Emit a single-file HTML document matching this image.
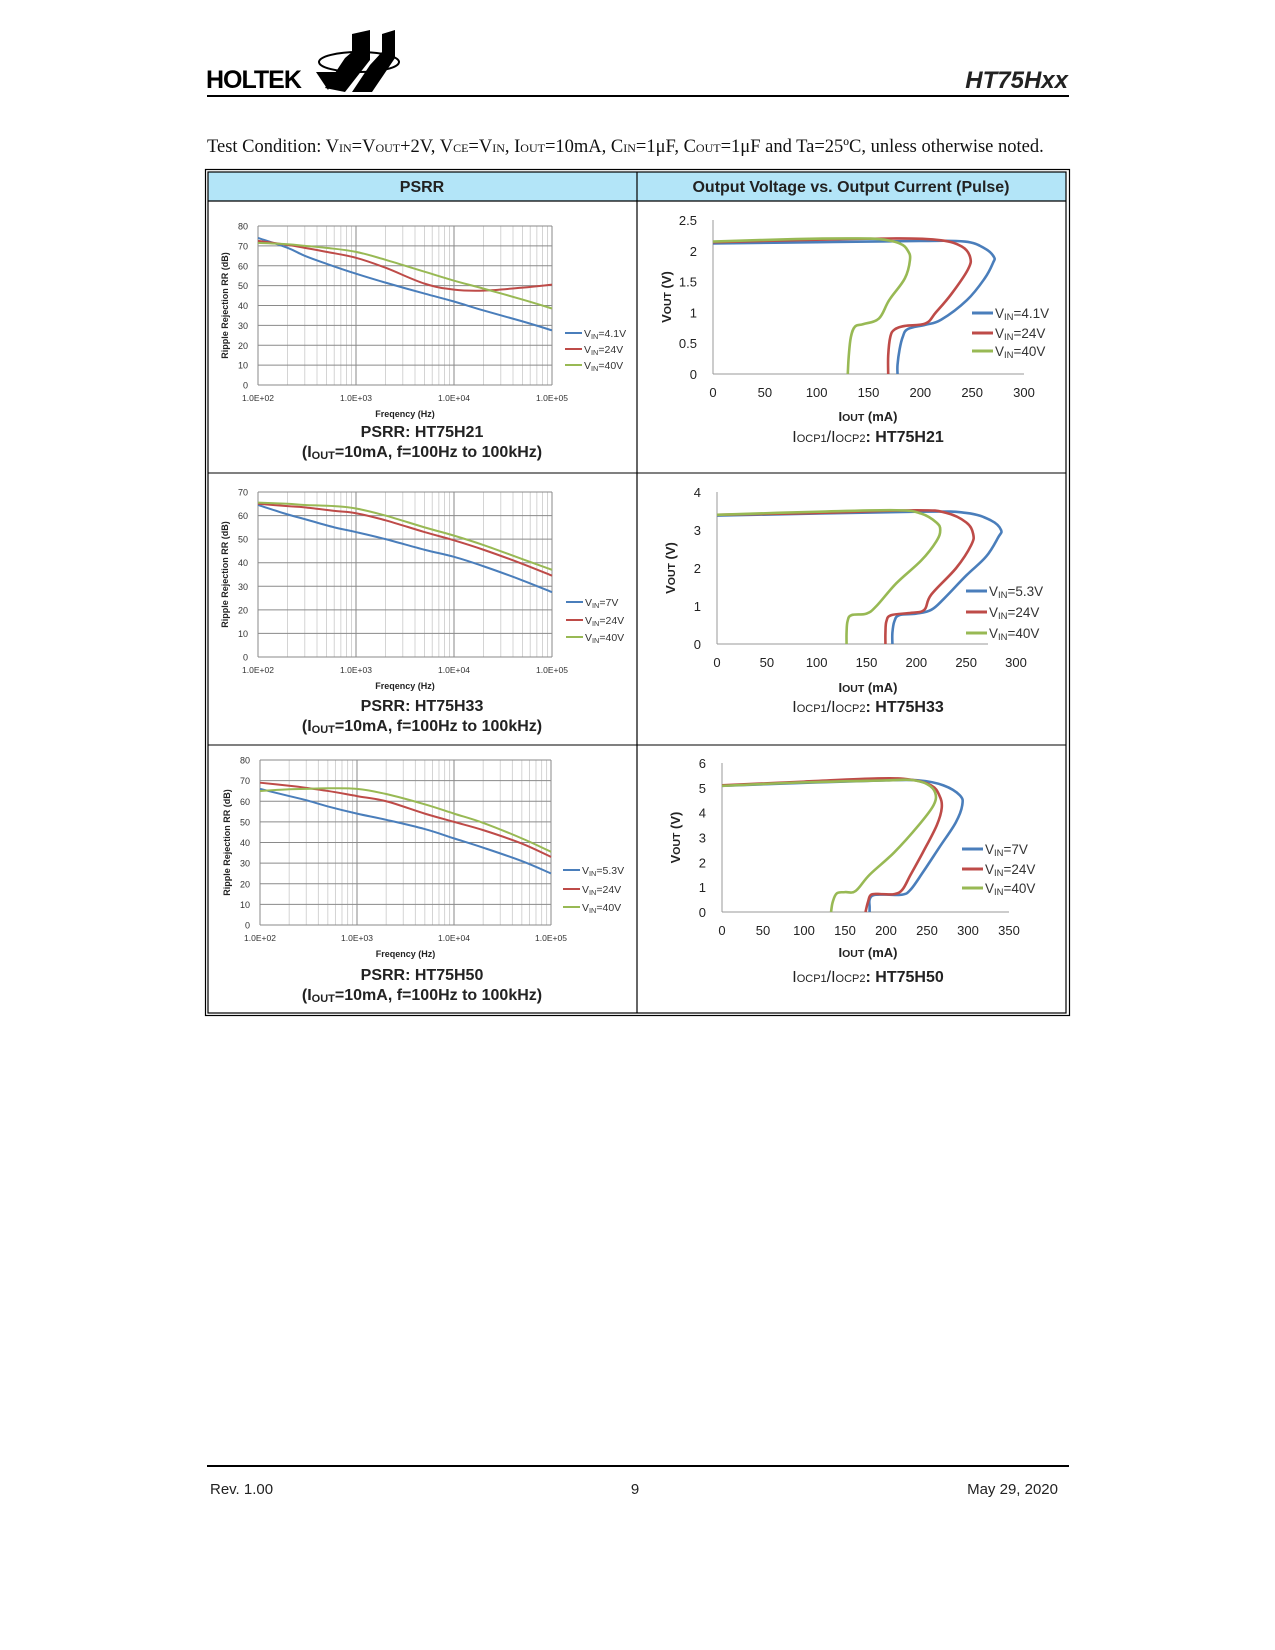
<!DOCTYPE html>
<html><head><meta charset="utf-8">
<style>
html,body{margin:0;padding:0;background:#fff;}
body{width:1275px;height:1650px;position:relative;overflow:hidden;font-family:"Liberation Sans",Arial,sans-serif;}
svg{position:absolute;left:0;top:0;}
</style></head>
<body>
<svg id="page" width="1275" height="1650" viewBox="0 0 1275 1650" xmlns="http://www.w3.org/2000/svg">
  <!-- Header -->
  <g>
    <text x="206" y="88" font-family="Liberation Sans, sans-serif" font-weight="bold" font-size="25" fill="#000" letter-spacing="-1">HOLTEK</text>
    <ellipse cx="359" cy="62" rx="40" ry="10" fill="none" stroke="#000" stroke-width="2"/>
    <polygon points="325,88 345,58 352,52 352,34 370,30 370,60 345,92" fill="#000"/>
    <polygon points="352,92 370,65 382,52 382,34 395,30 395,58 372,92" fill="#000"/>
    <polygon points="316,72 338,72 328,90" fill="#000"/>
  </g>
  <text x="1068" y="88" text-anchor="end" font-weight="bold" font-style="italic" font-size="24" fill="#222">HT75Hxx</text>
  <rect x="207" y="95" width="862" height="2" fill="#000"/>

  <text x="207" y="152" font-family="Liberation Serif, serif" font-size="18.5" fill="#111">Test Condition: V<tspan font-size="12">IN</tspan>=V<tspan font-size="12">OUT</tspan>+2V, V<tspan font-size="12">CE</tspan>=V<tspan font-size="12">IN</tspan>, I<tspan font-size="12">OUT</tspan>=10mA, C<tspan font-size="12">IN</tspan>=1μF, C<tspan font-size="12">OUT</tspan>=1μF and Ta=25ºC, unless otherwise noted.</text>

  <!-- Table -->
  <g>
    <rect x="208" y="172" width="858" height="29" fill="#b3e5f8"/>
    <rect x="205.5" y="169.5" width="864" height="846" fill="none" stroke="#000" stroke-width="1.2"/>
    <rect x="208" y="172" width="858" height="841" fill="none" stroke="#000" stroke-width="1.2"/>
    <line x1="208" y1="201" x2="1066" y2="201" stroke="#000" stroke-width="1.2"/>
    <line x1="637" y1="172" x2="637" y2="1013" stroke="#000" stroke-width="1.2"/>
    <line x1="208" y1="473" x2="1066" y2="473" stroke="#000" stroke-width="1"/>
    <line x1="208" y1="745" x2="1066" y2="745" stroke="#000" stroke-width="1"/>
    <text x="422" y="192" text-anchor="middle" font-weight="bold" font-size="16" fill="#222">PSRR</text>
    <text x="851" y="192" text-anchor="middle" font-weight="bold" font-size="16" fill="#222">Output Voltage vs. Output Current (Pulse)</text>
  </g>
  <g id="charts"></g>

  <!-- Footer -->
  <rect x="207" y="1465" width="862" height="2" fill="#000"/>
  <text x="210" y="1494" font-size="15" fill="#222">Rev. 1.00</text>
  <text x="635" y="1494" text-anchor="middle" font-size="15" fill="#222">9</text>
  <text x="1058" y="1494" text-anchor="end" font-size="15" fill="#222">May 29, 2020</text>
</svg>

<script>
// ---------- PSRR data (frequency Hz, dB) ----------
const psrr1Freq = [100,200,300,500,1000,2000,5000,10000,20000,50000,100000];
const psrr1Blue  = [74,69,65,61,56,51.5,46,42,37.5,32,27.5];
const psrr1Red   = [72.5,70.5,69,67,64,59,51,48,47.5,49,50.5];
const psrr1Green = [71.5,70.8,70,69,67,63,57,52.5,48.5,43,38.5];
const psrr1Legend = ["4.1V","24V","40V"];

const psrr2Freq = [100,200,300,600,1000,2000,5000,10000,20000,50000,100000];
const psrr2Blue  = [64.5,60.5,58.5,55,53,50,45.5,42.5,38.5,32.5,27.5];
const psrr2Red   = [65,64,63.5,62,61,58,53,49.5,45.5,39.5,34.5];
const psrr2Green = [65.5,65,64.5,64,63,60,55,51.5,47.5,41.5,37];
const psrr2Legend = ["7V","24V","40V"];

const psrr3Freq = [100,200,300,500,1000,2000,5000,10000,20000,50000,100000];
const psrr3Blue  = [66,62.5,60.5,57.5,54,51,46.5,42,37.5,31,25];
const psrr3Red   = [69,67.5,66.5,65,62.5,60,54,50,46,39.5,33];
const psrr3Green = [65,65.8,66,66.3,66,63.5,58.5,54,49.5,42,35.5];
const psrr3Legend = ["5.3V","24V","40V"];

const psrrYTicks1 = [0,10,20,30,40,50,60,70,80];
const psrrYTicks2 = [0,10,20,30,40,50,60,70];
const psrrXTicks = ["1.0E+02","1.0E+03","1.0E+04","1.0E+05"];

// ---------- Output V vs I data (mA, V) ----------
const vi1BlueI  = [0,100,200,243,262,271,270,262,245,220,205,188,183,180,178,178];
const vi1BlueV  = [2.12,2.14,2.16,2.15,2.04,1.9,1.8,1.55,1.2,0.88,0.8,0.73,0.6,0.4,0.15,0];
const vi1RedI   = [0,100,180,220,240,248,246,230,215,205,185,175,171,169,169];
const vi1RedV   = [2.14,2.18,2.2,2.17,2.07,1.9,1.7,1.3,1.0,0.82,0.78,0.72,0.6,0.3,0];
const vi1GreenI = [0,80,130,160,180,188,190,185,170,160,145,137,133,131,130];
const vi1GreenV = [2.15,2.19,2.2,2.19,2.12,2.0,1.85,1.55,1.2,0.9,0.81,0.77,0.6,0.3,0];
const vi1Legend = ["4.1V","24V","40V"];
const vi1XTicks = [0,50,100,150,200,250,300];
const vi1YTicks = [0,0.5,1,1.5,2,2.5];

const vi2BlueI  = [0,200,250,275,285,282,270,250,228,215,200,183,178,176,176];
const vi2BlueV  = [3.38,3.48,3.45,3.25,3.0,2.8,2.3,1.8,1.2,0.9,0.8,0.76,0.6,0.3,0];
const vi2RedI   = [0,100,200,230,250,257,255,240,215,208,195,175,170,169,169];
const vi2RedV   = [3.4,3.45,3.52,3.45,3.2,2.9,2.6,2.0,1.3,0.9,0.82,0.76,0.6,0.3,0];
const vi2GreenI = [0,100,180,205,220,224,220,205,180,160,150,135,131,130,130];
const vi2GreenV = [3.4,3.48,3.52,3.43,3.2,3.0,2.7,2.2,1.6,1.0,0.8,0.76,0.6,0.3,0];
const vi2Legend = ["5.3V","24V","40V"];
const vi2XTicks = [0,50,100,150,200,250,300];
const vi2YTicks = [0,1,2,3,4];

const vi3BlueI  = [0,100,200,240,270,290,293,285,265,245,230,220,200,185,180,180,180];
const vi3BlueV  = [5.08,5.2,5.3,5.3,5.1,4.7,4.3,3.6,2.6,1.6,0.9,0.7,0.7,0.68,0.5,0.2,0];
const vi3RedI   = [0,100,190,230,255,265,268,262,245,230,220,210,195,182,178,175];
const vi3RedV   = [5.1,5.25,5.38,5.33,5.1,4.7,4.2,3.5,2.4,1.5,0.9,0.72,0.72,0.7,0.4,0];
const vi3GreenI = [0,100,200,230,250,260,258,240,210,180,163,150,140,135,133];
const vi3GreenV = [5.08,5.22,5.3,5.32,5.15,4.8,4.3,3.5,2.4,1.5,0.85,0.8,0.75,0.4,0];
const vi3Legend = ["7V","24V","40V"];
const vi3XTicks = [0,50,100,150,200,250,300,350];
const vi3YTicks = [0,1,2,3,4,5,6];

const COLORS = ["#4a7ebb","#be4b48","#98b954"];
const NS = "http://www.w3.org/2000/svg";
const root = document.getElementById("charts");

function mk(tag, attrs, parent, text){
  const e = document.createElementNS(NS, tag);
  for (const k in attrs) e.setAttribute(k, attrs[k]);
  if (text !== undefined) e.textContent = text;
  (parent || root).appendChild(e);
  return e;
}
function smoothPath(pts){
  let d = "M" + pts[0][0].toFixed(2) + "," + pts[0][1].toFixed(2);
  for (let i = 0; i < pts.length - 1; i++){
    const p0 = pts[Math.max(0,i-1)], p1 = pts[i], p2 = pts[i+1], p3 = pts[Math.min(pts.length-1,i+2)];
    const t = 0.18;
    const c1 = [p1[0]+(p2[0]-p0[0])*t, p1[1]+(p2[1]-p0[1])*t];
    const c2 = [p2[0]-(p3[0]-p1[0])*t, p2[1]-(p3[1]-p1[1])*t];
    d += " C" + c1[0].toFixed(2)+","+c1[1].toFixed(2)+" "+c2[0].toFixed(2)+","+c2[1].toFixed(2)+" "+p2[0].toFixed(2)+","+p2[1].toFixed(2);
  }
  return d;
}
function vinLabel(g, x, y, val, fs){
  const t = mk("text", {x:x, y:y, "font-size":fs, fill:"#333"}, g);
  
  
  t.appendChild(document.createTextNode("V"));
  mk("tspan", {"font-size":fs*0.7, dy:2}, t, "IN");
  mk("tspan", {dy:-2}, t, "=" + val);
  return t;
}

function psrrChart(cfg){
  const g = mk("g", {});
  
  
  const xs = f => cfg.x0 + (Math.log10(f) - 2) / 3 * (cfg.x1 - cfg.x0);
  const ys = v => cfg.y0 + (v / cfg.ymax) * (cfg.yTop - cfg.y0);
  for (let dec = 2; dec < 5; dec++){
    for (let m = 2; m <= 9; m++){
      const x = xs(m * Math.pow(10, dec));
      mk("line", {x1:x, x2:x, y1:cfg.yTop, y2:cfg.y0, stroke:"#d4d4d4", "stroke-width":1}, g);
    }
  }
  for (let dec = 2; dec <= 5; dec++){
    const x = xs(Math.pow(10, dec));
    mk("line", {x1:x, x2:x, y1:cfg.yTop, y2:cfg.y0, stroke:"#8a8a8a", "stroke-width":1}, g);
  }
  cfg.yTicks.forEach(v => {
    const y = ys(v);
    mk("line", {x1:cfg.x0, x2:cfg.x1, y1:y, y2:y, stroke:"#8a8a8a", "stroke-width":1}, g);
    const t = mk("text", {x:cfg.x0 - 10, y:y + 3.5, "text-anchor":"end", "font-size":9, fill:"#333"}, g, String(v));
    
    
  });
  cfg.xTicks.forEach((lab, i) => {
    const t = mk("text", {x:xs(Math.pow(10, i + 2)), y:cfg.y0 + 16, "text-anchor":"middle", "font-size":8.5, fill:"#333"}, g, lab);
    
    
  });
  const yt = mk("text", {transform:"translate(" + (cfg.x0 - 30) + "," + ((cfg.y0 + cfg.yTop)/2) + ") rotate(-90)", "text-anchor":"middle", "font-size":9, "font-weight":"bold", fill:"#222"}, g, "Ripple Rejection RR (dB)");
  
  
  const xt = mk("text", {x:(cfg.x0 + cfg.x1)/2, y:cfg.y0 + 32, "text-anchor":"middle", "font-size":9, "font-weight":"bold", fill:"#222"}, g, "Freqency (Hz)");
  
  
  cfg.series.forEach((s, k) => {
    const pts = cfg.freq.map((f, i) => [xs(f), ys(s[i])]);
    const p = mk("path", {d:smoothPath(pts), fill:"none", stroke:COLORS[k], "stroke-width":2}, g);
    
    
    const ly = cfg.legY[k];
    const ll = mk("line", {x1:cfg.legX, x2:cfg.legX + 17, y1:ly, y2:ly, stroke:COLORS[k], "stroke-width":2}, g);
    
    
    vinLabel(g, cfg.legX + 19, ly + 4, cfg.legend[k], 10.5);
  });
  const t1 = mk("text", {x:422, y:cfg.sub1, "text-anchor":"middle", "font-size":16, "font-weight":"bold", fill:"#222"}, g, cfg.title);
  
  
  const t2 = mk("text", {x:422, y:cfg.sub1 + 20, "text-anchor":"middle", "font-size":16, "font-weight":"bold", fill:"#222"}, g);
  
  
  t2.appendChild(document.createTextNode("(I"));
  mk("tspan", {"font-size":11, dy:2}, t2, "OUT");
  mk("tspan", {dy:-2}, t2, "=10mA, f=100Hz to 100kHz)");
}

function viChart(cfg){
  const g = mk("g", {});
  
  
  const xs = v => cfg.x0 + v / cfg.xmax * (cfg.x1 - cfg.x0);
  const ys = v => cfg.y0 + v / cfg.ymax * (cfg.yTop - cfg.y0);
  mk("line", {x1:cfg.x0, x2:cfg.x0, y1:cfg.yTop, y2:cfg.y0, stroke:"#999", "stroke-width":1}, g);
  mk("line", {x1:cfg.x0, x2:cfg.axisEnd, y1:cfg.y0, y2:cfg.y0, stroke:"#999", "stroke-width":1}, g);
  cfg.yTicks.forEach(v => {
    const t = mk("text", {x:cfg.x0 - 16, y:ys(v) + 5, "text-anchor":"end", "font-size":13, fill:"#222"}, g, String(v));
    
    
  });
  cfg.xTicks.forEach(v => {
    const t = mk("text", {x:xs(v), y:cfg.y0 + 23, "text-anchor":"middle", "font-size":13, fill:"#222"}, g, String(v));
    
    
  });
  const yt = mk("text", {transform:"translate(" + (cfg.x0 - 42) + "," + ((cfg.y0 + cfg.yTop)/2) + ") rotate(-90)", "text-anchor":"middle", "font-size":13, "font-weight":"bold", fill:"#222"}, g);
  
  
  yt.appendChild(document.createTextNode("V"));
  mk("tspan", {"font-size":10.5}, yt, "OUT");
  mk("tspan", {}, yt, " (V)");
  const xt = mk("text", {x:cfg.titleX, y:cfg.xTitleY, "text-anchor":"middle", "font-size":13, "font-weight":"bold", fill:"#222"}, g);
  
  
  xt.appendChild(document.createTextNode("I"));
  mk("tspan", {"font-size":10.5}, xt, "OUT");
  mk("tspan", {}, xt, " (mA)");
  cfg.series.forEach((s, k) => {
    const pts = s[0].map((v, i) => [xs(v), ys(s[1][i])]);
    const p = mk("path", {d:smoothPath(pts), fill:"none", stroke:COLORS[k], "stroke-width":2.6, "stroke-linejoin":"round"}, g);
    
    
    const ly = cfg.legY[k];
    const ll = mk("line", {x1:cfg.legX, x2:cfg.legX + 21, y1:ly, y2:ly, stroke:COLORS[k], "stroke-width":3}, g);
    
    
    vinLabel(g, cfg.legX + 23, ly + 5, cfg.legend[k], 13.5);
  });
  const c = mk("text", {x:cfg.titleX, y:cfg.sub, "text-anchor":"middle", "font-size":16, "font-weight":"bold", fill:"#222"}, g);
  
  
  mk("tspan", {"font-weight":"normal"}, c, "I");
  mk("tspan", {"font-size":11, "font-weight":"normal"}, c, "OCP1");
  mk("tspan", {"font-weight":"normal"}, c, "/I");
  mk("tspan", {"font-size":11, "font-weight":"normal"}, c, "OCP2");
  mk("tspan", {}, c, ": " + cfg.part);
}

psrrChart({name:"psrr-chart-ht75h21", x0:258, x1:552, y0:385, yTop:226, ymax:80, yTicks:psrrYTicks1, xTicks:psrrXTicks,
  freq:psrr1Freq, series:[psrr1Blue, psrr1Red, psrr1Green], legend:psrr1Legend, legX:565, legY:[333,349,365],
  title:"PSRR: HT75H21", sub1:437});
psrrChart({name:"psrr-chart-ht75h33", x0:258, x1:552, y0:657, yTop:492, ymax:70, yTicks:psrrYTicks2, xTicks:psrrXTicks,
  freq:psrr2Freq, series:[psrr2Blue, psrr2Red, psrr2Green], legend:psrr2Legend, legX:566, legY:[602,620,637],
  title:"PSRR: HT75H33", sub1:711});
psrrChart({name:"psrr-chart-ht75h50", x0:260, x1:551, y0:925, yTop:760, ymax:80, yTicks:psrrYTicks1, xTicks:psrrXTicks,
  freq:psrr3Freq, series:[psrr3Blue, psrr3Red, psrr3Green], legend:psrr3Legend, legX:563, legY:[870,889,907],
  title:"PSRR: HT75H50", sub1:980});

viChart({name:"vi-chart-ht75h21", x0:713, x1:1024, xmax:300, y0:374, yTop:220, ymax:2.5, axisEnd:1024,
  xTicks:vi1XTicks, yTicks:vi1YTicks, series:[[vi1BlueI,vi1BlueV],[vi1RedI,vi1RedV],[vi1GreenI,vi1GreenV]],
  legend:vi1Legend, legX:972, legY:[313,333,351], titleX:868, xTitleY:421, sub:442, part:"HT75H21"});
viChart({name:"vi-chart-ht75h33", x0:717, x1:1016, xmax:300, y0:644, yTop:492, ymax:4, axisEnd:988,
  xTicks:vi2XTicks, yTicks:vi2YTicks, series:[[vi2BlueI,vi2BlueV],[vi2RedI,vi2RedV],[vi2GreenI,vi2GreenV]],
  legend:vi2Legend, legX:966, legY:[591,612,633], titleX:868, xTitleY:692, sub:712, part:"HT75H33"});
viChart({name:"vi-chart-ht75h50", x0:722, x1:1009, xmax:350, y0:912, yTop:763, ymax:6, axisEnd:1009,
  xTicks:vi3XTicks, yTicks:vi3YTicks, series:[[vi3BlueI,vi3BlueV],[vi3RedI,vi3RedV],[vi3GreenI,vi3GreenV]],
  legend:vi3Legend, legX:962, legY:[849,869,888], titleX:868, xTitleY:957, sub:982, part:"HT75H50"});
</script>
</body></html>
